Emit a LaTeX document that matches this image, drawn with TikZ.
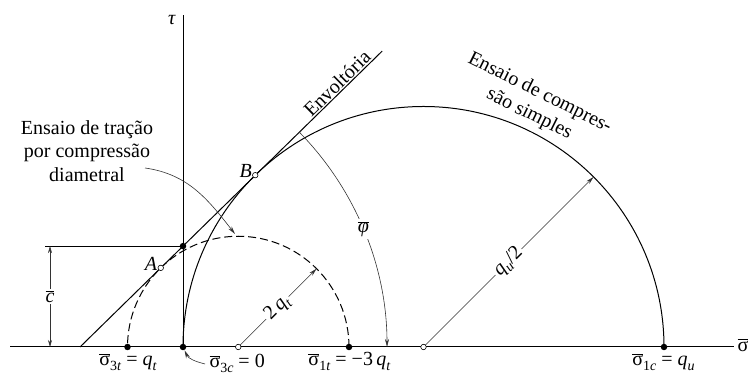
\documentclass[tikz,border=0pt]{standalone}
\usepackage{fontspec}
\setmainfont{Liberation Serif}
\usetikzlibrary{arrows.meta,calc}
\newcommand\ovl[1]{$\overline{\mbox{#1}}$}
\newcommand\subs[1]{\raisebox{-0.45ex}{\fontsize{14}{14}\selectfont #1}}
\begin{document}
\begin{tikzpicture}[x=1pt,y=1pt,line width=1pt,
  thinline/.style={line width=0.6pt,draw=black!80},
  tip/.style={-{Stealth[length=8pt,width=4pt]}},
  dot/.style={circle,fill=black,inner sep=0pt,minimum size=6.5pt},
  odot/.style={circle,draw=black,fill=white,line width=0.6pt,inner sep=0pt,minimum size=5.5pt},
  lbl/.style={font=\fontsize{20}{23.5}\selectfont,inner sep=1pt},
  dashedcirc/.style={dash pattern=on 8pt off 4pt}]
\useasboundingbox (0,0) rectangle (750,374);
\def\ph{44.4}
% coordinates
\coordinate (P0) at (80,27);
\coordinate (Sl) at (10,27);
\coordinate (Sr) at (734,27);
\coordinate (Tt) at (183,359);
\coordinate (Etop) at ($(P0)+(\ph:423)$);
\coordinate (C1) at (238.25,27);
\coordinate (C2) at (423.5,27);
% axes
\draw (Sl) -- (Sr);
\draw (183,27) -- (Tt);
% circles
\draw[dashedcirc] (349,27) arc[start angle=0,end angle=180,radius=110.75];
\draw (664,27) arc[start angle=0,end angle=180,radius=240.5];
% envelope
\draw (P0) -- (Etop);
% c bar dimension
\coordinate (Cc) at (183,127.9);
\coordinate (Cl) at (45,127.9);
\draw[line width=0.9pt] (Cl) -- (Cc);
\coordinate (Cd1) at (50,27);
\coordinate (Cd2) at (50,127.9);
\draw[thinline,{Stealth[length=7pt,width=4pt]}-{Stealth[length=7pt,width=4pt]}] (Cd1) -- (Cd2)
  node[midway,lbl,fill=white,inner sep=2pt] {\ovl{\itshape c}};
% phi arc
\coordinate (Ph1) at ($(P0)+(\ph:307)$);
\draw[thinline,{Bar[width=6pt]}-{Stealth[length=8pt,width=4pt]}] (Ph1) arc[start angle=\ph,end angle=0,radius=307];
\node[lbl,fill=white,inner sep=2pt] (phl) at ($(P0)+(22.6:307)$) {\ovl{\itshape φ}};
% radius arrows
\coordinate (R1) at ($(C1)+(45:110.75)$);
\coordinate (R2) at ($(C2)+(45:240.5)$);
\draw[thinline,tip] (C1) -- (R1) node[midway,sloped,lbl,fill=white,inner sep=2pt] {2\,\textit{q}\subs{\textit{t}}};
\draw[thinline,tip] (C2) -- (R2) node[midway,sloped,lbl,fill=white,inner sep=2pt] {\textit{q}\subs{\textit{u}}/2};
% dots
\node[dot] (s3t) at (127.5,27) {};
\node[dot] (s3c) at (183,27) {};
\node[dot] (s1t) at (349,27) {};
\node[dot] (s1c) at (664,27) {};
\node[dot] (cpt) at (Cc) {};
\node[odot] (A) at ($(C1)+(90+\ph:110.75)$) {};
\node[odot] (B) at ($(C2)+(90+\ph:240.5)$) {};
\node[odot] (c1) at (C1) {};
\node[odot] (c2) at (C2) {};
\node[lbl,anchor=east] at ($(A)+(-2,4)$) {\textit{A}};
\node[lbl,anchor=east] at ($(B)+(-2,4)$) {\textit{B}};
% texts
\node[lbl] (tau) at (172,354) {\textit{τ}};
\node[lbl,align=center] (tr) at (87,223) {Ensaio de tração\\por compressão\\diametral};
\coordinate (tra) at (145,206);
\coordinate (trb) at (235,140);
\draw[thinline,tip] (tra) to[out=-8,in=128] (trb);
\node[lbl,rotate=\ph,anchor=south] (env) at ($(P0)+(\ph:368)$) {Envoltória};
\node[lbl,rotate=-26.5,align=center] (cmp) at (534.5,270.2) {Ensaio de compres-\\são simples};
% bottom labels
\node[lbl,anchor=base] (l3t) at (128,8) {\ovl{σ}\subs{3\textit{t}} = \textit{q}\subs{\textit{t}}};
\node[lbl,anchor=base] (l1t) at (349.5,8) {\ovl{σ}\subs{1\textit{t}} = −3\,\textit{q}\subs{\textit{t}}};
\node[lbl,anchor=base] (l1c) at (663.5,8) {\ovl{σ}\subs{1\textit{c}} = \textit{q}\subs{\textit{u}}};
\node[lbl,anchor=base west] (l3c) at (208,6) {\ovl{σ}\subs{3\textit{c}} = 0};
\coordinate (a3c) at (205,10);
\draw[thinline,tip] (a3c) to[out=165,in=-65] (s3c);
\node[lbl,anchor=west] (sig) at (736,29) {\ovl{σ}};
\end{tikzpicture}
\end{document}
